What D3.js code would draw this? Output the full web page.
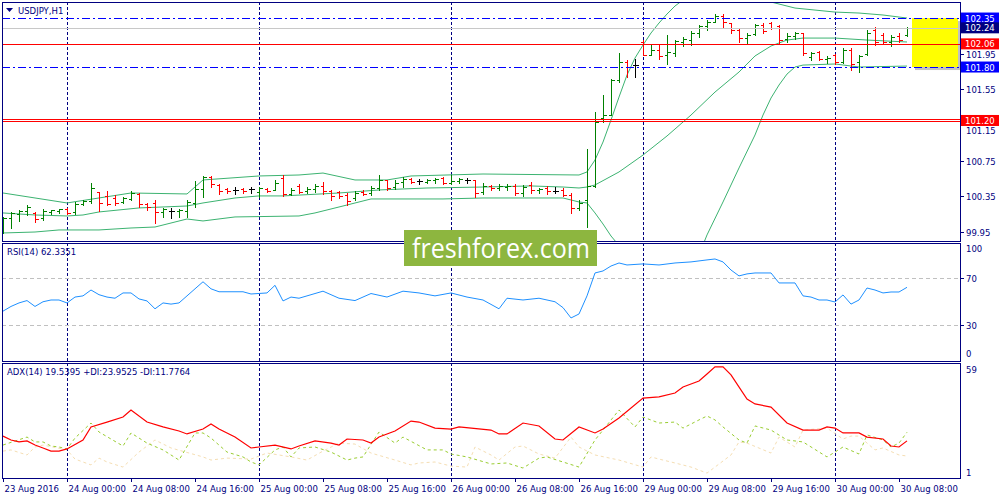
<!DOCTYPE html>
<html><head><meta charset="utf-8">
<script src="https://cdn.jsdelivr.net/npm/d3@7"></script>
<style>body{margin:0;background:#fff}svg{display:block;font-family:"DejaVu Sans",sans-serif}</style>
</head><body><svg id="c" width="1000" height="500"></svg>
<script>
// ---------- DATA ----------
const symbolTitle = "USDJPY,H1";
const rsiTitle = "RSI(14) 62.3351";
const adxTitle = "ADX(14) 19.5395 +DI:23.9525 -DI:11.7764";
const timeLabels = ["23 Aug 2016","24 Aug 00:00","24 Aug 08:00","24 Aug 16:00","25 Aug 00:00","25 Aug 08:00","25 Aug 16:00","26 Aug 00:00","26 Aug 08:00","26 Aug 16:00","29 Aug 00:00","29 Aug 08:00","29 Aug 16:00","30 Aug 00:00","30 Aug 08:00"];
const timeLabelIdx = [0,8,16,24,32,40,48,56,64,72,80,88,96,104,112];
const daySeparatorIdx = [8,32,56,80,104];
const priceTicks = [101.95,101.55,101.15,100.75,100.35,99.95];
const markValues = [102.35,102.24,102.06,101.80,101.20];
const rsiTicks = [100,70,30,0];
const rsiLevels = [70,30];
const adxTicks = [59,1];
const dashDotLevels = [102.35,101.80];
const bidLevel = 102.24;
const redLevel = 102.06;
const doubleRedLevel = 101.20;
const zoneTop = 102.35, zoneBottom = 101.80, zoneStartIdx = 113.625, zoneEndIdx = 119.375;

const opens = [99.971,100.106,100.150,100.184,100.162,100.106,100.173,100.184,100.207,100.173,
100.263,100.296,100.397,100.353,100.330,100.285,100.319,100.375,100.263,100.274,
100.173,100.184,100.184,100.184,100.274,100.431,100.566,100.476,100.431,100.420,
100.431,100.431,100.397,100.431,100.420,100.554,100.375,100.465,100.409,100.431,
100.465,100.409,100.397,100.364,100.330,100.397,100.386,100.442,100.532,100.453,
100.509,100.543,100.521,100.509,100.532,100.554,100.498,100.521,100.532,100.532,
100.397,100.465,100.442,100.453,100.465,100.386,100.476,100.420,100.442,100.409,
100.420,100.364,100.218,100.307,100.465,101.228,101.261,101.654,101.856,101.822,
102.081,101.935,101.991,101.935,101.957,102.081,102.103,102.182,102.260,102.305,
102.372,102.294,102.215,102.125,102.170,102.271,102.294,102.260,102.114,102.148,
102.182,101.912,101.968,101.890,101.935,101.856,101.991,101.856,101.946,102.215,
102.159,102.081,102.148,102.159];
const highs = [100.117,100.173,100.195,100.251,100.173,100.207,100.195,100.207,100.218,100.285,
100.307,100.498,100.397,100.409,100.364,100.341,100.409,100.386,100.274,100.307,
100.218,100.218,100.207,100.307,100.521,100.577,100.577,100.487,100.442,100.453,
100.442,100.453,100.453,100.442,100.532,100.588,100.442,100.487,100.453,100.487,
100.509,100.420,100.409,100.386,100.409,100.420,100.465,100.588,100.532,100.532,
100.566,100.554,100.543,100.543,100.554,100.566,100.588,100.554,100.554,100.532,
100.498,100.476,100.487,100.487,100.487,100.476,100.509,100.442,100.465,100.453,
100.442,100.386,100.307,100.880,101.295,101.486,101.665,101.957,101.879,101.890,
102.103,102.047,102.058,102.159,102.103,102.137,102.204,102.271,102.328,102.395,
102.395,102.294,102.227,102.182,102.283,102.294,102.305,102.271,102.182,102.193,
102.182,101.968,101.980,101.924,101.946,102.013,102.013,101.935,102.215,102.249,
102.182,102.159,102.182,102.249];
const lows = [99.937,99.993,100.072,100.139,100.061,100.083,100.150,100.162,100.150,100.150,
100.251,100.274,100.184,100.251,100.251,100.274,100.307,100.229,100.195,100.049,
100.117,100.106,100.117,100.117,100.229,100.341,100.453,100.375,100.386,100.375,
100.386,100.386,100.341,100.397,100.420,100.353,100.364,100.386,100.386,100.397,
100.375,100.307,100.330,100.251,100.307,100.364,100.364,100.420,100.420,100.431,
100.453,100.498,100.487,100.498,100.498,100.487,100.487,100.498,100.498,100.341,
100.375,100.420,100.420,100.420,100.364,100.353,100.386,100.386,100.375,100.386,
100.353,100.162,100.195,100.004,100.453,101.183,101.261,101.632,101.690,101.690,
101.935,101.935,101.890,101.834,101.924,102.036,102.047,102.137,102.215,102.305,
102.238,102.182,102.081,102.069,102.159,102.182,102.227,102.069,102.081,102.114,
101.935,101.879,101.879,101.845,101.834,101.845,101.767,101.746,101.935,102.047,
102.069,102.036,102.081,102.148];
const closes = [100.106,100.162,100.184,100.229,100.094,100.184,100.195,100.207,100.162,100.263,
100.296,100.442,100.274,100.263,100.274,100.330,100.386,100.263,100.229,100.173,
100.207,100.184,100.195,100.285,100.431,100.566,100.487,100.409,100.409,100.420,
100.409,100.431,100.442,100.409,100.498,100.375,100.420,100.397,100.431,100.465,
100.409,100.353,100.353,100.296,100.386,100.375,100.442,100.532,100.442,100.498,
100.543,100.509,100.521,100.532,100.543,100.498,100.521,100.543,100.532,100.386,
100.465,100.442,100.465,100.465,100.386,100.453,100.420,100.431,100.409,100.409,
100.364,100.218,100.274,100.465,101.183,101.261,101.654,101.856,101.800,101.822,
101.935,101.991,101.924,101.968,102.092,102.114,102.182,102.260,102.305,102.372,
102.305,102.215,102.125,102.159,102.271,102.204,102.238,102.103,102.148,102.182,
101.957,101.957,101.890,101.901,101.856,101.991,101.834,101.924,102.182,102.081,
102.081,102.137,102.103,102.240];

const bbUpper = [[0,100.386],[8,100.274],[16,100.386],[23,100.375],[25,100.532],[32,100.577],[37,100.588],[40,100.610],[44,100.532],[48,100.532],[51,100.577],[60,100.599],[72,100.588],[73,100.622],[74,100.756],[75,100.958],[76,101.205],[77,101.463],[78,101.710],[79,101.901],[80,102.047],[81,102.182],[82,102.294],[83,102.395],[84,102.485],[86,102.619],[88,102.709],[90,102.732],[92,102.687],[94,102.608],[96,102.530],[99,102.462],[104,102.417],[107,102.406],[110,102.384],[113,102.350]];
const bbMiddle = [[0,100.162],[4,100.139],[8,100.128],[10,100.139],[12,100.173],[17,100.218],[20,100.229],[23,100.240],[25,100.274],[29,100.330],[32,100.353],[35,100.353],[42,100.386],[47,100.420],[53,100.442],[60,100.453],[66,100.465],[70,100.453],[72,100.442],[73,100.453],[74,100.476],[77,100.622],[80,100.812],[83,101.026],[86,101.261],[89,101.519],[92,101.744],[94,101.924],[96,102.036],[98,102.103],[100,102.125],[104,102.125],[108,102.103],[113,102.081]];
const bbLower = [[0,99.937],[4,99.948],[7,99.971],[12,99.971],[16,99.993],[19,100.004],[21,100.049],[23,100.094],[25,100.072],[29,100.117],[37,100.128],[39,100.162],[43,100.251],[46,100.319],[55,100.319],[60,100.330],[70,100.330],[72,100.285],[73,100.274],[74,100.162],[75,100.038],[76,99.903],[78,99.690],[80,99.544],[83,99.432],[85,99.466],[87,99.690],[88,99.915],[90,100.285],[92,100.667],[94,101.037],[95,101.261],[96,101.452],[97,101.598],[98,101.721],[99,101.800],[100,101.822],[104,101.834],[107,101.800],[113,101.811]];

const rsiPts = [[0,42],[1,46],[2,49],[3,51],[4,46],[5,50],[6,51.5],[7,51.5],[8,49],[9,54],[10,55],[11,60],[12,56],[13,54],[14,53],[15,57.5],[16,57.5],[17,52.4],[18,50.7],[19,44],[20,49],[21,48],[22,49],[25,67],[26,61],[27,58.5],[30,58.5],[31,56.6],[33,57.5],[34,64],[35,50.7],[36,54],[37,53],[38,55],[40,59],[42,53],[44,51],[46,57],[48,54],[50,59],[52,57.5],[54,55],[56,57.5],[58,54],[60,51.5],[62,44],[63,53],[65,51.5],[67,53],[69,50],[70,45],[71,36.2],[72,39.6],[73,55],[74,74.5],[75,76.2],[76,80.4],[77,83],[78,81.3],[80,82.2],[82,81.3],[84,83],[86,83.9],[88,85.6],[89,86.4],[90,83.9],[91,77],[92,72],[93,73.7],[94,74.5],[96,74.5],[97,66],[99,66],[100,55],[101,54],[102,51.5],[103,51.5],[104,49.8],[105,55.8],[106,48],[107,51.5],[108,61.7],[109,60],[110,57.5],[111,58.3],[112,58.3],[113,62.3]];

const adxPts = [[0,22],[1,20],[2,19],[3,19.5],[4,17.4],[5,15.9],[6,14.3],[7,14.3],[8,15.4],[10,20],[11,26.7],[13,29.2],[15,31.8],[16,35.4],[18,29.2],[20,26.7],[22,24.6],[23,23.1],[25,25.6],[26,28.2],[27,25.6],[29,21.5],[31,15.9],[32,16.4],[34,17.4],[36,15.4],[37,16.9],[39,19.5],[41,18.4],[42,17.4],[43,20.5],[45,20],[46,18.4],[47,21.5],[49,24.6],[51,29.7],[52,29.2],[54,26.1],[56,25.6],[57,26.7],[61,25.1],[62,23.1],[63,23.1],[65,28.7],[67,27.2],[69,20.5],[70,20],[72,26.7],[74,23.6],[75,25.6],[77,31.3],[80,41.5],[82,42.1],[84,44.1],[85,47.2],[87,50.3],[88,53.9],[89,57.5],[90,57.5],[91,53.4],[93,41],[94,38.5],[96,36.9],[98,28.7],[100,25.1],[102,25.1],[103,26.7],[104,26.1],[105,23.6],[107,23.6],[108,21.5],[110,20.5],[111,16.9],[112,16.4],[113,19.54]];
const plusDiPts = [[0,17.4],[3,21.5],[4,19],[5,19],[6,16.9],[7,16.4],[8,15.4],[9,21],[11,28.7],[12,24.1],[15,16.9],[16,23.6],[18,18.4],[20,14.9],[22,9.7],[24,23.6],[25,23.6],[26,21],[28,13.8],[30,11.3],[31,8.7],[32,7.2],[34,14.9],[35,16.4],[36,11.3],[37,15.9],[39,16.4],[41,13.8],[43,9.7],[44,10.7],[45,11.3],[47,24.1],[49,18.4],[50,21.5],[53,14.9],[55,14.9],[56,12.8],[58,11.3],[61,7.7],[63,8.2],[65,5.6],[67,10.7],[68,11.3],[72,6.1],[74,20],[75,25.1],[77,35.4],[79,26.7],[80,31.8],[82,28.7],[84,29.2],[85,26.1],[87,30.3],[88,32.3],[89,30.3],[90,26.7],[92,20],[93,18.4],[94,27.2],[96,25.1],[98,20],[100,19],[103,11.3],[104,13.8],[105,16.4],[107,12.8],[108,22.6],[110,20],[111,16.4],[112,18.4],[113,23.95]];
const minusDiPts = [[0,14.3],[1,14.9],[3,12.3],[4,16.4],[5,17.4],[8,14.9],[9,10.2],[11,7.2],[12,10.7],[13,8.7],[15,6.1],[17,13.8],[19,20],[21,15.9],[25,11.3],[26,9.7],[28,10.7],[31,10.2],[33,13.3],[36,11.3],[38,9.7],[40,14.3],[42,18.4],[44,17.9],[46,13.3],[49,9.7],[51,7.2],[52,8.2],[54,8.7],[56,6.6],[58,6.1],[59,16.4],[61,12.3],[62,9.7],[64,16.4],[65,16.9],[67,12.8],[69,10.7],[71,21.5],[72,16.4],[74,12.3],[77,9.7],[80,6.1],[81,11.3],[82,10.2],[84,8.2],[86,6.1],[88,3],[89,6.1],[91,12.3],[92,19],[93,18.4],[96,13.3],[97,21.5],[99,16.4],[100,25.1],[103,26.1],[105,20.5],[106,22],[107,22],[109,14.9],[110,15.9],[112,12.3],[113,11.78]];

// ---------- DRAW ----------
const navy = '#000080';
const svg = d3.select('#c');
const L = 2, R = 960;
const x = d3.scaleLinear().domain([0,113]).range([3,907]);
const y = d3.scaleLinear().domain([99.847,102.530]).range([241,2]);
const yR = d3.scaleLinear().domain([0,100]).range([360.5,243]);
const yA = d3.scaleLinear().domain([1,59]).range([477,364]);

svg.append('rect').attr('width',1000).attr('height',500).attr('fill','#fff');
const defs = svg.append('defs');
[['cm',L,2,R-L,239],['cr',L,243,R-L,118],['ca',L,363,R-L,115]].forEach(([id,a,b,w,h])=>
  defs.append('clipPath').attr('id',id).append('rect').attr('x',a).attr('y',b).attr('width',w).attr('height',h));

// day separators
const gSep = svg.append('g').attr('shape-rendering','crispEdges');
daySeparatorIdx.forEach(i=>{
  const px = Math.round(x(i))+0.5;
  [[2,241],[243,361],[363,478]].forEach(([a,b])=>gSep.append('line').attr('x1',px).attr('x2',px).attr('y1',a).attr('y2',b)
    .attr('stroke',navy).attr('stroke-dasharray','3,2'));
});

// main panel
const main = svg.append('g').attr('clip-path','url(#cm)');
const lineP = d3.line().x(d=>x(d[0])).y(d=>y(d[1]));
[bbUpper,bbMiddle,bbLower].forEach(s=>main.append('path').attr('d',lineP(s)).attr('fill','none').attr('stroke','#3cb371').attr('stroke-width',1));

const gb = main.append('g').attr('shape-rendering','crispEdges');
closes.forEach((c,i)=>{
  const o = opens[i];
  const col = c>o ? '#008000' : (c<o ? '#ff0000' : '#000000');
  const px = Math.round(x(i))+0.5;
  const r = v=>Math.round(y(v))+0.5;
  gb.append('path').attr('fill','none').attr('stroke',col)
    .attr('d',`M${px},${Math.round(y(highs[i]))}V${Math.round(y(lows[i]))+1}M${px-3},${r(o)}H${px}M${px},${r(c)}H${px+3}`);
});

// zone rectangle with shadow
const zx0 = x(zoneStartIdx), zx1 = x(zoneEndIdx), zy0 = y(zoneTop), zy1 = y(zoneBottom);
main.append('rect').attr('x',zx0+3).attr('y',zy0+3).attr('width',zx1-zx0).attr('height',zy1-zy0).attr('fill','#9a9a9a').attr('opacity',0.6);
main.append('rect').attr('x',zx0).attr('y',zy0).attr('width',zx1-zx0).attr('height',zy1-zy0).attr('fill','#ffff00');

// horizontal levels
const gl = main.append('g').attr('shape-rendering','crispEdges');
const hl = (v,off,col,dash)=>{const py=Math.round(y(v))+0.5+off;
  const l=gl.append('line').attr('x1',L).attr('x2',R).attr('y1',py).attr('y2',py).attr('stroke',col);
  if(dash) l.attr('stroke-dasharray',dash);};
hl(bidLevel,0,'#c8c8c8');
hl(redLevel,0,'#ff0000');
hl(doubleRedLevel,-1,'#ff0000'); hl(doubleRedLevel,1,'#ff0000');
dashDotLevels.forEach(v=>hl(v,0,'#0000ff','8,3,2,3'));

// RSI panel
const rsiG = svg.append('g').attr('clip-path','url(#cr)');
rsiLevels.forEach(v=>{const py=Math.round(yR(v))+0.5;
  rsiG.append('line').attr('x1',L).attr('x2',R).attr('y1',py).attr('y2',py).attr('stroke','#c0c0c0').attr('stroke-dasharray','4,3').attr('shape-rendering','crispEdges');});
rsiG.append('path').attr('d',d3.line().x(d=>x(d[0])).y(d=>yR(d[1]))(rsiPts)).attr('fill','none').attr('stroke','#1e90ff').attr('stroke-width',1);

// ADX panel
const adxG = svg.append('g').attr('clip-path','url(#ca)');
const lineA = d3.line().x(d=>x(d[0])).y(d=>yA(d[1]));
adxG.append('path').attr('d',lineA(minusDiPts)).attr('fill','none').attr('stroke','#f5deb3').attr('stroke-dasharray','3,3');
adxG.append('path').attr('d',lineA(plusDiPts)).attr('fill','none').attr('stroke','#9acd32').attr('stroke-dasharray','3,3');
adxG.append('path').attr('d',lineA(adxPts)).attr('fill','none').attr('stroke','#ff0000').attr('stroke-width',1.2);

// frames
const fr = svg.append('g').attr('fill','none').attr('stroke',navy).attr('shape-rendering','crispEdges');
[[2,241],[243,361],[363,478]].forEach(([a,b])=>fr.append('rect').attr('x',L+0.5).attr('y',a+0.5).attr('width',R-L).attr('height',b-a));

// right axes
const ax = svg.append('g').attr('font-size','8.5px').attr('fill',navy);
const markBottom = y(doubleRedLevel)+5.5;
priceTicks.forEach(v=>{const py=Math.round(y(v))+0.5;
  ax.append('line').attr('x1',R).attr('x2',R+4).attr('y1',py).attr('y2',py).attr('stroke',navy);
  // a label that would sit under the red price marker is pushed just below it
  const ty = Math.abs(v-doubleRedLevel)<0.1 ? Math.max(py+3.5, markBottom+8) : py+3.5;
  ax.append('text').attr('x',R+6).attr('y',ty).text(v.toFixed(2));});
const markBg = ['#0000ff','#000080','#ff0000','#0000ff','#ff0000'];
markValues.forEach((v,k)=>{const py=y(v);
  ax.append('rect').attr('x',R+1).attr('y',py-5.5).attr('width',38).attr('height',11).attr('fill',markBg[k]);
  ax.append('text').attr('x',R+5).attr('y',py+3.5).attr('fill','#fff').text(v.toFixed(2));});
rsiTicks.forEach(v=>{const py=yR(v);
  const ty = v===100 ? py+9 : (v===0 ? py-4 : py+3.5);
  if(v!==100 && v!==0) ax.append('line').attr('x1',R).attr('x2',R+4).attr('y1',Math.round(py)+0.5).attr('y2',Math.round(py)+0.5).attr('stroke',navy);
  ax.append('text').attr('x',R+6).attr('y',ty).text(v);});
adxTicks.forEach(v=>{const py=yA(v);
  ax.append('text').attr('x',R+6).attr('y',v===59 ? py+9 : py-1).text(v);});

// time axis
timeLabelIdx.forEach((i,k)=>{const px=Math.round(x(i))+0.5;
  ax.append('line').attr('x1',px).attr('x2',px).attr('y1',478).attr('y2',482).attr('stroke',navy);
  ax.append('text').attr('x',px+1).attr('y',492).text(timeLabels[k]);});

// titles
svg.append('path').attr('d','M6,8H13L9.5,12Z').attr('fill',navy);
ax.append('text').attr('x',18).attr('y',14).text(symbolTitle);
ax.append('text').attr('x',7).attr('y',255).text(rsiTitle);
ax.append('text').attr('x',7).attr('y',375).text(adxTitle);

// watermark
svg.append('rect').attr('x',404).attr('y',230).attr('width',193).attr('height',36).attr('fill','#8db63f');
svg.append('text').attr('x',412).attr('y',258).attr('fill','#fff').attr('font-family','"Open Sans",sans-serif')
  .attr('font-size','27px').attr('textLength',178).attr('lengthAdjust','spacingAndGlyphs').text('freshforex.com');
</script></body></html>
